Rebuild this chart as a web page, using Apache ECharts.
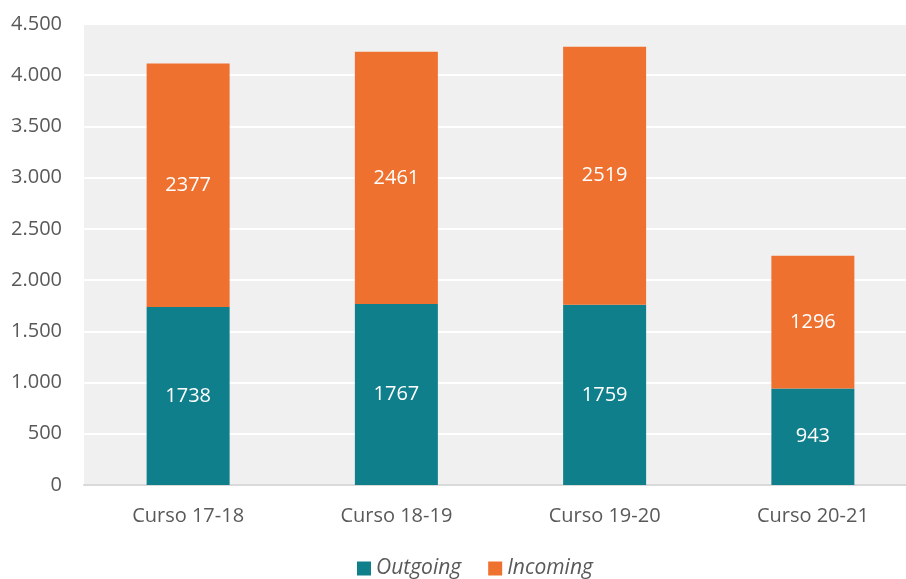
<!DOCTYPE html>
<html><head><meta charset="utf-8">
<script src="https://cdn.jsdelivr.net/npm/echarts@6/dist/echarts.min.js"></script>
<style>html,body{margin:0;padding:0;background:#fff;overflow:hidden}#c{width:917px;height:579px}</style>
</head><body><div id="c"></div>
<script>
const categories = ['Curso 17-18', 'Curso 18-19', 'Curso 19-20', 'Curso 20-21'];
const outgoing = [1738, 1767, 1759, 943];
const incoming = [2377, 2461, 2519, 1296];
const seriesNames = ['Outgoing', 'Incoming'];

const chart = echarts.init(document.getElementById('c'), null, {renderer: 'canvas'});
const FONT = '"Open Sans", "Noto Sans", sans-serif';
const lbl = {show: true, position: 'inside', color: '#ffffff', fontSize: 20, fontFamily: FONT};
chart.setOption({
  animation: false,
  backgroundColor: '#ffffff',
  grid: {left: 84, right: 0, top: 24, bottom: 94, backgroundColor: '#f0f0f0', show: true, borderWidth: 0},
  legend: {
    bottom: -5, left: 352, itemWidth: 14, itemHeight: 14, itemGap: 27, icon: 'rect',
    textStyle: {fontSize: 21, color: '#595959', fontStyle: 'italic', fontFamily: FONT}
  },
  xAxis: {
    type: 'category', data: categories,
    axisLine: {lineStyle: {color: '#d9d9d9', width: 2}},
    axisTick: {show: false},
    axisLabel: {fontSize: 20, color: '#595959', margin: 21, fontFamily: FONT}
  },
  yAxis: {
    type: 'value', min: 0, max: 4500, interval: 500,
    axisLine: {show: false}, axisTick: {show: false},
    splitLine: {lineStyle: {color: '#ffffff', width: 2}},
    axisLabel: {fontSize: 20, color: '#595959', margin: 22, fontFamily: FONT,
      formatter: v => String(v).replace(/\B(?=(\d{3})+(?!\d))/g, '.')}
  },
  series: [
    {name: seriesNames[0], type: 'bar', stack: 't', data: outgoing, barWidth: 83,
     itemStyle: {color: '#107f8c'}, label: lbl},
    {name: seriesNames[1], type: 'bar', stack: 't', data: incoming, barWidth: 83,
     itemStyle: {color: '#ef712f'}, label: lbl}
  ]
});
</script></body></html>
